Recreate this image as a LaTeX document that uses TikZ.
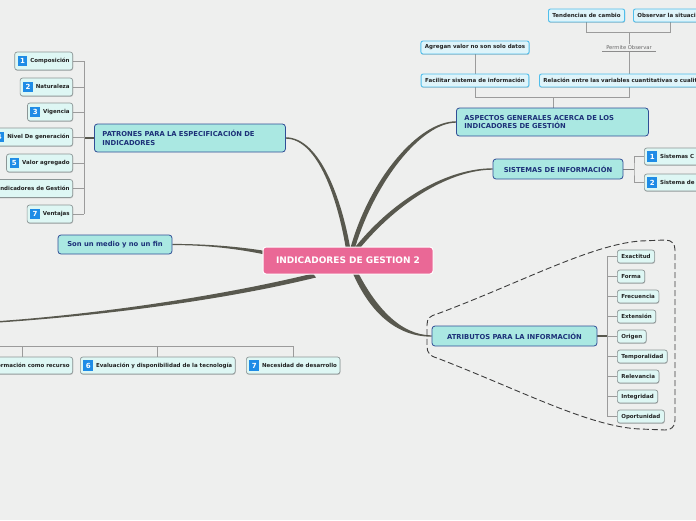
\documentclass[tikz,border=0pt]{standalone}
\usepackage{fontspec}
\setmainfont{DejaVu Sans}
\usetikzlibrary{calc,shadows}
\pgfdeclarelayer{back}
\pgfsetlayers{back,main}
\definecolor{bgc}{RGB}{238,239,238}
\definecolor{branchc}{RGB}{88,88,78}
\definecolor{topicfill}{RGB}{170,232,226}
\definecolor{topicborder}{RGB}{48,78,150}
\definecolor{topictext}{RGB}{28,48,120}
\definecolor{cenfill}{RGB}{234,104,150}
\definecolor{subfill}{RGB}{222,247,244}
\definecolor{subborder}{RGB}{140,150,150}
\definecolor{subtext}{RGB}{34,34,34}
\definecolor{trfill}{RGB}{222,244,250}
\definecolor{trborder}{RGB}{80,190,235}
\definecolor{brk}{RGB}{155,155,155}
\definecolor{iconblue}{RGB}{30,140,230}
\definecolor{dashc}{RGB}{60,60,60}
\newcommand{\nic}[1]{\raisebox{-0.6pt}{\setlength{\fboxsep}{1.6pt}\colorbox{iconblue}{\makebox[6.5pt]{\rule[-1pt]{0pt}{7pt}\color{white}\fontsize{7}{7}\selectfont\bfseries #1}}}\hspace{3pt}}
\begin{document}
\begin{tikzpicture}[x=1pt,y=-1pt,
  shad/.style={drop shadow={shadow xshift=0.4pt, shadow yshift=-0.9pt, opacity=0.18, fill=black}},
  topic/.style={draw=topicborder, fill=topicfill, rounded corners=3pt, line width=0.8pt, text=topictext, font=\fontsize{6.8}{8.5}\selectfont\bfseries, inner ysep=0pt},
  central/.style={fill=cenfill, draw=white, line width=1pt, rounded corners=3pt, minimum width=170pt, minimum height=27pt, text=white, font=\fontsize{9}{10}\selectfont\bfseries, inner sep=0pt},
  sub/.style={shad, draw=subborder, fill=subfill, rounded corners=2.5pt, line width=0.7pt, text=subtext, font=\fontsize{5.5}{6.5}\selectfont\bfseries, inner xsep=3pt, inner ysep=0pt, minimum height=18pt},
  attr/.style={sub, inner xsep=4pt, minimum height=13pt},
  trbox/.style={shad, draw=trborder, fill=trfill, rounded corners=2pt, line width=0.9pt, text=subtext, font=\fontsize{5.5}{6.5}\selectfont\bfseries, inner xsep=4pt, inner ysep=0pt, minimum height=13pt},
  bracket/.style={draw=brk, line width=0.8pt},
  darkline/.style={draw=branchc, line width=1.4pt},
  lbl/.style={text=black!60, font=\fontsize{5.2}{6}\selectfont, inner xsep=4pt, inner ysep=1.5pt}
]
\useasboundingbox (0,0) rectangle (696,520);
\clip (0,0) rectangle (696,520);

% ---------- nodes ----------
\node[central] (cen) at (348,260.5) {INDICADORES DE GESTION 2};

\node[topic, anchor=west, text width=175pt, align=left, inner xsep=8pt, minimum height=28pt] (pat) at (94,138) {PATRONES PARA LA ESPECIFICACIÓN DE\\INDICADORES};
\node[topic, anchor=west, text width=176pt, align=left, inner xsep=8pt, minimum height=28pt] (asp) at (456,122) {ASPECTOS GENERALES ACERCA DE LOS\\INDICADORES DE GESTIÓN};
\node[topic, minimum width=130pt, minimum height=20pt] (sis) at (558,169) {SISTEMAS DE INFORMACIÓN};
\node[topic, minimum width=165pt, minimum height=20pt] (atr) at (514.5,336) {ATRIBUTOS PARA LA INFORMACIÓN};
\node[topic, minimum width=114pt, minimum height=19pt] (son) at (115,244.5) {Son un medio y no un fin};

% left list
\node[sub, anchor=east] (p1) at (73,61) {\nic{1}Composición};
\node[sub, anchor=east] (p2) at (73,87) {\nic{2}Naturaleza};
\node[sub, anchor=east] (p3) at (73,112) {\nic{3}Vigencia};
\node[sub, anchor=east] (p4) at (73,137) {\nic{4}Nivel De generación};
\node[sub, anchor=east] (p5) at (73,163) {\nic{5}Valor agregado};
\node[sub, anchor=east] (p6) at (73,188.5) {\nic{6}Indicadores de Gestión};
\node[sub, anchor=east] (p7) at (73,214) {\nic{7}Ventajas};

% top right
\node[trbox, anchor=west] (ten) at (548,15.5) {Tendencias de cambio};
\node[trbox, anchor=west] (obs) at (633,15.5) {Observar la situación};
\node[trbox] (agr) at (475,47.5) {Agregan valor no son solo datos};
\node[trbox] (fac) at (475,80.5) {Facilitar sistema de información};
\node[trbox, anchor=west] (rel) at (539,80.5) {Relación entre las variables cuantitativas o cualitativas};
\node[lbl] (po) at (629,48) {Permite Observar};

% sistemas children
\node[sub, anchor=west, minimum height=17pt] (s1) at (644,156.5) {\makebox[70pt][l]{\nic{1}Sistemas C}};
\node[sub, anchor=west, minimum height=17pt] (s2) at (644,182.5) {\makebox[70pt][l]{\nic{2}Sistema de}};

% atributos children
\node[attr, anchor=west] (a1) at (617,256.5) {Exactitud};
\node[attr, anchor=west] (a2) at (617,276.5) {Forma};
\node[attr, anchor=west] (a3) at (617,296.5) {Frecuencia};
\node[attr, anchor=west] (a4) at (617,316.5) {Extensión};
\node[attr, anchor=west] (a5) at (617,336.5) {Origen};
\node[attr, anchor=west] (a6) at (617,356.5) {Temporalidad};
\node[attr, anchor=west] (a7) at (617,376.5) {Relevancia};
\node[attr, anchor=west] (a8) at (617,396.5) {Integridad};
\node[attr, anchor=west] (a9) at (617,416.5) {Oportunidad};

% bottom row
\node[sub, anchor=east, minimum height=17pt] (b5) at (73,365.5) {\nic{5}Información como recurso};
\node[sub, anchor=west, minimum height=17pt] (b6) at (80,365.5) {\nic{6}Evaluación y disponibilidad de la tecnología};
\node[sub, anchor=west, minimum height=17pt] (b7) at (246,365.5) {\nic{7}Necesidad de desarrollo};

% ---------- connectors (background layer) ----------
\begin{pgfonlayer}{back}
\fill[bgc] (0,0) rectangle (696,520);
\clip (0,0) rectangle (696,520);

% main tapered branches
\fill[branchc] ([xshift=-2pt,yshift=-3pt]cen.north) .. controls (338,200) and (318,138.7) .. ([yshift=-0.7pt]pat.east)
  -- ([yshift=0.7pt]pat.east) .. controls (320,137.3) and (342,200) .. ([xshift=2.5pt,yshift=-3pt]cen.north) -- cycle;
\fill[branchc] ([xshift=2pt,yshift=-3pt]cen.north) .. controls (369,180) and (418,121.3) .. ([yshift=0.7pt]asp.west)
  -- ([yshift=-0.7pt]asp.west) .. controls (421,122.7) and (374,183) .. ([xshift=6.5pt,yshift=-3pt]cen.north) -- cycle;
\fill[branchc] ([xshift=6pt,yshift=-2pt]cen.north) .. controls (396,196) and (450,168.3) .. ([yshift=0.7pt]sis.west)
  -- ([yshift=-0.7pt]sis.west) .. controls (452,169.7) and (399,200) .. ([xshift=10pt,yshift=-4pt]cen.north) -- cycle;
\fill[branchc] ([xshift=9pt,yshift=4pt]cen.south) .. controls (375,306) and (400,335.3) .. ([yshift=0.7pt]atr.west)
  -- ([yshift=-0.7pt]atr.west) .. controls (397,336.7) and (370,313) .. ([xshift=4.5pt,yshift=2pt]cen.south) -- cycle;
\fill[branchc] ([yshift=10pt]cen.west) .. controls (230,245.5) and (200,244) .. ([yshift=0.6pt]son.east)
  -- ([yshift=-0.6pt]son.east) .. controls (200,245) and (230,247.5) .. ([yshift=6.5pt]cen.west) -- cycle;
\coordinate (offl) at (-20,323);
\fill[branchc] ([xshift=-35pt,yshift=1pt]cen.south) .. controls (210,298.5) and (80,316.4) .. ([yshift=0.7pt]offl)
  -- ([yshift=-0.7pt]offl) .. controls (80,317.8) and (212,303) .. ([xshift=-32pt,yshift=-3pt]cen.south) -- cycle;

% left bracket
\coordinate (pj) at (84,138);
\draw[darkline] (pat.west) -- (pj);
\foreach \i in {1,...,7} {\draw[bracket] (p\i.east) -- (p\i.east -| pj);}
\draw[bracket] (p1.east -| pj) -- (p7.east -| pj);

% top right tree
\coordinate (aj) at (553,97);
\coordinate (rj) at (629,97);
\coordinate (tj) at (629,32);
\draw[bracket] (asp.north -| aj) -- (aj);
\draw[bracket] (fac.south) |- (rj) -- (rj |- rel.south);
\draw[bracket] (agr.south) -- (fac.north);
\draw[bracket] (rel.north -| po) -- (po.south);
\draw[draw=black!45, line width=0.6pt] (po.south west) -- (po.south east);
\draw[bracket] (po.north) -- (tj);
\draw[bracket] (ten.south) |- (tj);
\draw[bracket] (obs.south) |- (tj);

% sistemas bracket
\coordinate (sj) at (634,169);
\draw[bracket, draw=black!50] (sis.east) -- (sj);
\draw[bracket] (s1.west) -| (sj) |- (s2.west);

% atributos bracket
\coordinate (tj2) at (607,336);
\draw[darkline] (atr.east) -- (tj2);
\foreach \i in {1,...,9} {\draw[bracket] (a\i.west) -- (a\i.west -| tj2);}
\draw[bracket] (a1.west -| tj2) -- (a9.west -| tj2);

% bottom row bracket
\coordinate (bj) at (-10,346);
\draw[bracket] (bj) -| (b7.north);
\draw[bracket] (b5.north) -- (b5.north |- bj);
\draw[bracket] (b6.north) -- (b6.north |- bj);

% dashed boundary
\draw[dashc, line width=0.9pt, dash pattern=on 6pt off 3pt]
  (427,335) -- (427,325) .. controls (427,318) and (430,316) .. (437,314)
  .. controls (520,283) and (590,245) .. (640,241) -- (665,240)
  .. controls (672,240) and (675,244) .. (675,250) -- (675,420)
  .. controls (675,427) and (671,430) .. (665,430) -- (640,429)
  .. controls (590,427) and (520,390) .. (437,358)
  .. controls (430,356) and (427,353) .. (427,346) -- cycle;
\end{pgfonlayer}
\end{tikzpicture}
\end{document}
